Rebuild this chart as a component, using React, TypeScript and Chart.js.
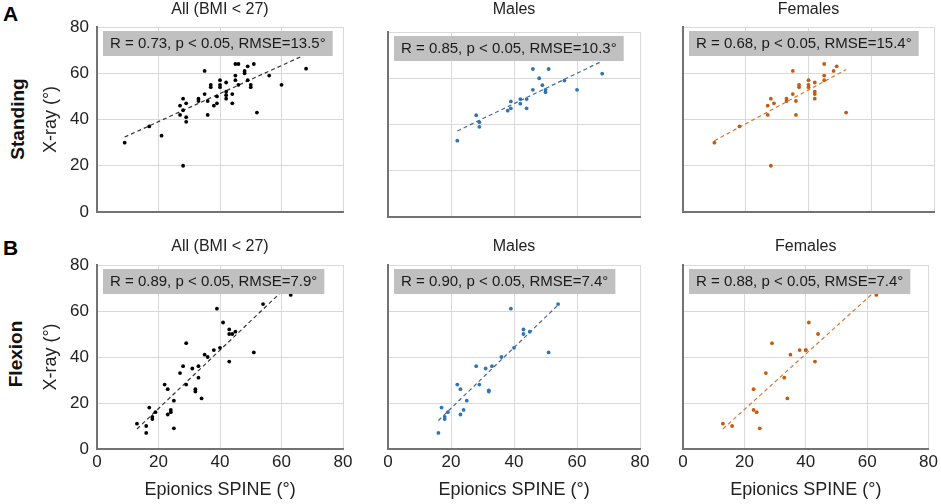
import React, { useEffect, useRef } from "react";
import { Chart, registerables } from "chart.js";

Chart.register(...registerables);

const FONT = '"Liberation Sans", Arial, sans-serif';

// A: standing, all subjects (BMI < 27)
const standingAllX = [9, 17, 21, 28, 27, 28, 27, 28, 29, 29, 29, 33, 33, 35, 35, 36, 36, 37, 37, 38, 39, 39, 40, 40, 40, 42, 42, 42, 42, 44, 44, 45, 46, 45, 45, 46, 48, 48, 49, 49, 50, 50, 51, 52, 56, 60, 68];
const standingAllY = [30, 37, 33, 20, 46, 49, 42, 44, 47, 41, 39, 49, 48, 61, 51, 48, 42, 55, 54, 46, 47, 50, 57, 55, 54, 56, 52, 50.5, 49, 51, 47, 64, 64, 59, 57, 55, 61, 60, 63, 57, 55, 54, 64, 43, 59, 55, 62];
const standingMaleX = [22, 28, 29, 29, 38, 39, 39, 42, 42, 44, 44, 46, 46, 48, 49, 50, 50, 51, 56, 60, 68];
const standingMaleY = [33, 44, 41, 39, 46, 47, 50, 51, 49, 51, 47, 64, 55, 60, 57, 55, 54, 64, 59, 55, 62];
const standingFemaleX = [10, 18, 27, 27, 28, 28, 29, 33, 33, 35, 35, 36, 36, 37, 37, 40, 40, 40, 42, 42, 42, 42, 45, 45, 45, 48, 49, 52];
const standingFemaleY = [30, 37, 46, 42, 49, 20, 47, 49, 48, 61, 51, 48, 42, 55, 54, 57, 55, 54, 56, 52, 51, 49, 64, 59, 57, 61, 63, 43];

// B: flexion
const flexionAllX = [13, 16, 16, 17, 18, 18, 19, 22, 23, 23, 24, 24, 25, 25, 27, 28, 29, 29, 31, 32, 32, 33, 33, 34, 35, 36, 38, 39, 40, 41, 43, 43, 43, 44, 45, 51, 54, 63];
const flexionAllY = [11, 10, 7, 18, 14, 13, 16, 28, 26, 15, 17, 16, 21, 9, 33, 36, 46, 28, 35, 26, 25, 36, 31, 22, 41, 40, 43, 61, 44, 55, 52, 50, 38, 50, 51, 42, 63, 67];
const flexionMaleX = [16, 17, 18, 18, 19, 22, 23, 23, 24, 25, 28, 29, 31, 32, 32, 33, 36, 39, 40, 43, 43, 45, 51, 54];
const flexionMaleY = [7, 18, 14, 13, 16, 28, 26, 15, 17, 21, 36, 28, 35, 25.5, 25, 36, 40, 61, 44, 52, 50, 51, 42, 63];
const flexionFemaleX = [13, 16, 23, 23, 24, 25, 27, 29, 33, 34, 35, 38, 40, 40, 41, 43, 44, 63];
const flexionFemaleY = [11, 10, 26, 17, 16, 9, 33, 46, 31, 22, 41, 43, 43, 43, 55, 38, 50, 67];

// trend line end points (x, y)
const trendStandingAll = [[9, 32.4], [68, 68.2]];
const trendStandingMale = [[22, 37.2], [68, 67.4]];
const trendStandingFemale = [[10, 30.8], [52, 61.6]];
const trendFlexionAll = [[13, 8.7], [63, 72.2]];
const trendFlexionMale = [[16, 12.4], [54, 62.6]];
const trendFlexionFemale = [[13, 8.7], [63, 69.1]];

const axisTicks = [0, 20, 40, 60, 80];

type PanelProps = {
  title: string;
  stats: string;
  xs: number[];
  ys: number[];
  trend: number[][];
  color: string;
  lineColor: string;
  left: number;
  top: number;
  w: number;
  h: number;
  yw: number;
  xh: number;
  tpt: number;
  tpb: number;
  padRight: number;
  yTicks: boolean;
  xTicks: boolean;
};

function Panel(p: PanelProps) {
  const ref = useRef<HTMLCanvasElement>(null);

  useEffect(() => {
    if (!ref.current) throw new Error("missing canvas");

    const statsBox = {
      id: "statsBox",
      afterDatasetsDraw(chart: Chart) {
        const { ctx, chartArea } = chart;
        ctx.save();
        ctx.font = `15px ${FONT}`;
        const w = ctx.measureText(p.stats).width + 14;
        const x = chartArea.left + 6;
        const y = chartArea.top + 4;
        ctx.fillStyle = "#c0c0c0";
        ctx.fillRect(x, y, w, 25);
        ctx.fillStyle = "#1a1a1a";
        ctx.textBaseline = "middle";
        ctx.fillText(p.stats, x + 7, y + 13);
        ctx.restore();
      },
    };

    const chart = new Chart(ref.current, {
      type: "scatter",
      data: {
        datasets: [
          {
            type: "scatter",
            data: p.xs.map((x, i) => ({ x, y: p.ys[i] })),
            backgroundColor: p.color,
            pointRadius: 1.9,
            pointBorderWidth: 0,
          },
          {
            type: "line",
            data: p.trend.map(([x, y]) => ({ x, y })),
            borderColor: p.lineColor,
            borderDash: [4, 3],
            borderWidth: 1.2,
            pointRadius: 0,
            fill: false,
          },
        ],
      },
      options: {
        animation: false,
        responsive: false,
        maintainAspectRatio: false,
        layout: { padding: { left: 0, right: p.padRight, top: 0, bottom: 0 } },
        plugins: {
          legend: { display: false },
          tooltip: { enabled: false },
          title: {
            display: true,
            fullSize: false,
            text: p.title,
            color: "#222",
            font: { size: 16, family: FONT, weight: "normal", lineHeight: 1 },
            padding: { top: p.tpt, bottom: p.tpb },
          },
        },
        scales: {
          x: {
            type: "linear",
            min: 0,
            max: 80,
            afterBuildTicks: (s: any) => {
              s.ticks = axisTicks.map((v) => ({ value: v }));
            },
            ticks: {
              display: p.xTicks,
              color: "#222",
              padding: 3,
              font: { size: 17, family: FONT },
            },
            grid: { color: "#d9d9d9", drawTicks: false },
            border: { color: "#737373", width: 2 },
            title: {
              display: p.xTicks,
              text: "Epionics SPINE (°)",
              color: "#222",
              font: { size: 18, family: FONT, lineHeight: 1 },
              padding: { top: 0, bottom: 5 },
            },
            afterFit: (s: any) => {
              s.height = p.xh;
            },
          },
          y: {
            type: "linear",
            min: 0,
            max: 80,
            afterBuildTicks: (s: any) => {
              s.ticks = axisTicks.map((v) => ({ value: v }));
            },
            ticks: {
              display: p.yTicks,
              color: "#222",
              padding: 8,
              font: { size: 17, family: FONT },
            },
            grid: { color: "#d9d9d9", drawTicks: false },
            border: { color: "#737373", width: 2 },
            title: {
              display: p.yTicks,
              text: "X-ray (°)",
              color: "#222",
              font: { size: 18, family: FONT, lineHeight: 1 },
              padding: { top: 12, bottom: 0 },
            },
            afterFit: (s: any) => {
              s.width = p.yw;
            },
          },
        },
      },
      plugins: [statsBox],
    });

    return () => chart.destroy();
  }, []);

  return (
    <canvas
      ref={ref}
      width={p.w}
      height={p.h}
      style={{ position: "absolute", left: p.left, top: p.top, width: p.w, height: p.h }}
    />
  );
}

const BLACK = "#000000";
const BLUE = "#2e75b6";
const ORANGE = "#c55a11";

const rowLabel = (text: string, cx: number, cy: number) => (
  <div
    style={{
      position: "absolute",
      left: cx,
      top: cy,
      transform: "translate(-50%, -50%) rotate(-90deg)",
      whiteSpace: "nowrap",
      font: `bold 19px ${FONT}`,
      lineHeight: 1,
      color: "#111",
    }}
  >
    {text}
  </div>
);

export default function App() {
  return (
    <div
      style={{
        position: "fixed",
        left: 0,
        top: 0,
        width: 941,
        height: 504,
        background: "#fff",
        overflow: "hidden",
      }}
    >
      <div style={{ position: "absolute", left: 3, top: 3, font: `bold 21px ${FONT}`, lineHeight: 1 }}>A</div>
      <div style={{ position: "absolute", left: 3, top: 237, font: `bold 21px ${FONT}`, lineHeight: 1 }}>B</div>
      {rowLabel("Standing", 17, 119)}
      {rowLabel("Flexion", 15, 354)}

      <Panel title="All (BMI < 27)" stats="R = 0.73, p < 0.05, RMSE=13.5°" xs={standingAllX} ys={standingAllY} trend={trendStandingAll} color={BLACK} lineColor="#333" left={30} top={0} w={326} h={236} yw={67} xh={24} tpt={2} tpb={9} padRight={13} yTicks xTicks={false} />
      <Panel title="Males" stats="R = 0.85, p < 0.05, RMSE=10.3°" xs={standingMaleX} ys={standingMaleY} trend={trendStandingMale} color={BLUE} lineColor="#46698f" left={370} top={0} w={283} h={236} yw={18} xh={19} tpt={2} tpb={14} padRight={13} yTicks={false} xTicks={false} />
      <Panel title="Females" stats="R = 0.68, p < 0.05, RMSE=15.4°" xs={standingFemaleX} ys={standingFemaleY} trend={trendStandingFemale} color={ORANGE} lineColor="#d27a3c" left={665} top={0} w={276} h={236} yw={18} xh={24} tpt={2} tpb={9} padRight={7} yTicks={false} xTicks={false} />

      <Panel title="All (BMI < 27)" stats="R = 0.89, p < 0.05, RMSE=7.9°" xs={flexionAllX} ys={flexionAllY} trend={trendFlexionAll} color={BLACK} lineColor="#333" left={30} top={236} w={326} h={268} yw={67} xh={55} tpt={3} tpb={10} padRight={13} yTicks xTicks />
      <Panel title="Males" stats="R = 0.90, p < 0.05, RMSE=7.4°" xs={flexionMaleX} ys={flexionMaleY} trend={trendFlexionMale} color={BLUE} lineColor="#46698f" left={370} top={236} w={283} h={268} yw={18} xh={55} tpt={3} tpb={10} padRight={13} yTicks={false} xTicks />
      <Panel title="Females" stats="R = 0.88, p < 0.05, RMSE=7.4°" xs={flexionFemaleX} ys={flexionFemaleY} trend={trendFlexionFemale} color={ORANGE} lineColor="#d27a3c" left={665} top={236} w={276} h={268} yw={18} xh={55} tpt={3} tpb={10} padRight={7} yTicks={false} xTicks />
    </div>
  );
}
